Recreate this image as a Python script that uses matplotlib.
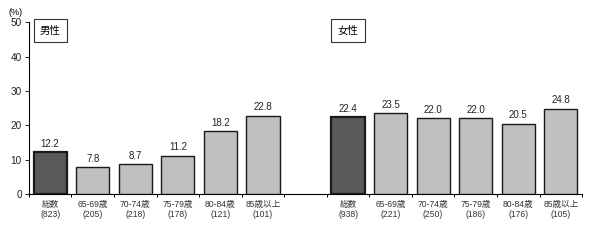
import numpy as np
from matplotlib import pyplot as plt

plt.rcParams['font.family'] = ['Liberation Sans', 'Noto Sans CJK JP']

categories = ["総数", "65-69歳", "70-74歳", "75-79歳", "80-84歳", "85歳以上"]
male_n = [823, 205, 218, 178, 121, 101]
female_n = [938, 221, 250, 186, 176, 105]
male_vals = [12.2, 7.8, 8.7, 11.2, 18.2, 22.8]
female_vals = [22.4, 23.5, 22.0, 22.0, 20.5, 24.8]

fig = plt.figure(figsize=(6.02, 2.43), dpi=100)
ax = fig.add_axes([0.048, 0.2016, 0.919, 0.707])

x_m = np.arange(6)
x_f = np.arange(6) + 7
colors = ["#595959"] + ["#c0c0c0"] * 5
lws = [1.6] + [1.0] * 5

for xs, vals in [(x_m, male_vals), (x_f, female_vals)]:
    ax.bar(xs, vals, width=0.78, color=colors, edgecolor="#1a1a1a", linewidth=lws, zorder=3)
    for xi, v in zip(xs, vals):
        ax.text(xi, v + 1.0, "%.1f" % v, ha="center", va="bottom", fontsize=7, color="#222222")

ax.set_xlim(-0.5, 12.5)
ax.set_ylim(0, 50)
ax.set_yticks(np.arange(0, 51, 10))
ax.tick_params(axis="y", labelsize=7.2, length=3, width=0.7, pad=2, colors="#222222")

labels = [c + "\n(" + str(n) + ")" for c, n in zip(categories, male_n)] + \
         [c + "\n(" + str(n) + ")" for c, n in zip(categories, female_n)]
ax.set_xticks(np.concatenate([x_m, x_f]))
ax.set_xticklabels(labels, fontsize=6.2, color="#333333", linespacing=1.25)
ax.tick_params(axis="x", length=0, pad=4)
bounds = list(np.arange(-0.5, 6, 1)) + list(np.arange(6.5, 13, 1))
ax.set_xticks(bounds, minor=True)
ax.tick_params(axis="x", which="minor", length=2.5, width=0.7, direction="out")

for s in ["top", "right"]:
    ax.spines[s].set_visible(False)
ax.spines["left"].set_linewidth(0.8)
ax.spines["bottom"].set_linewidth(0.8)

ax.text(-0.025, 1.03, "(%)", transform=ax.transAxes, fontsize=6.5, ha="center", va="bottom")
box = dict(boxstyle="square,pad=0.6", facecolor="white", edgecolor="#333333", linewidth=0.8)
ax.text(0.0, 47.6, "男性", fontsize=7.5, ha="center", va="center", bbox=box)
ax.text(7.0, 47.6, "女性", fontsize=7.5, ha="center", va="center", bbox=box)

plt.savefig("out.png", dpi=100)
